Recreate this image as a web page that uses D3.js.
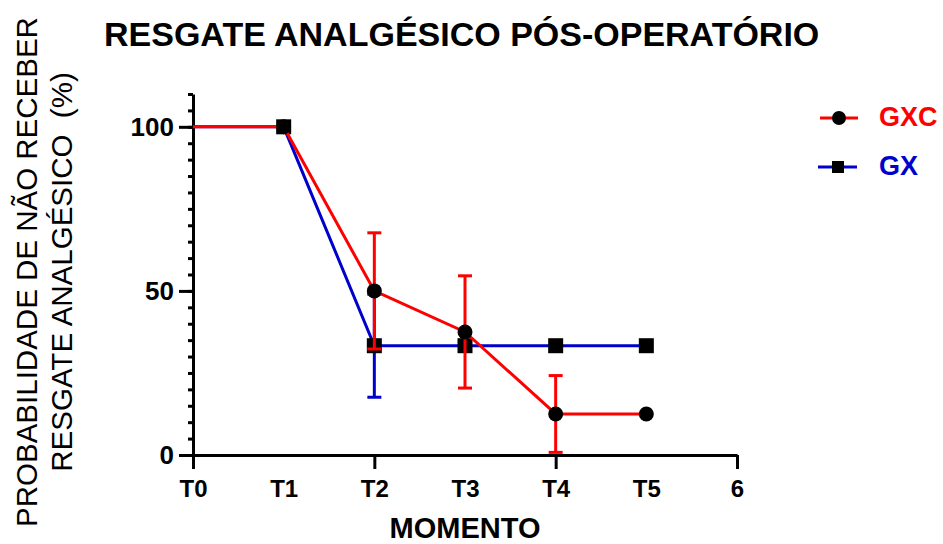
<!DOCTYPE html>
<html>
<head>
<meta charset="utf-8">
<script src="https://cdn.jsdelivr.net/npm/d3@7"></script>
<style>
  body { margin: 0; background: #fff; }
  text { font-family: "Liberation Sans", Arial, sans-serif; }
</style>
</head>
<body>
<script>
// categories (x = 0..6)
var moments = ["T0", "T1", "T2", "T3", "T4", "T5", "6"];
var xMajor = [0, 2, 4, 6];
var yMajor = [0, 50, 100];
var yMinor = d3.range(0, 111, 5);

// survival (%) and standard errors
var gxc = [100, 100, 50, 37.5, 12.5, 12.5];
var gxcErr = [null, null, 17.7, 17.1, 11.7, null];
var gx = [100, 100, 33.3, 33.3, 33.3, 33.3];
var gxErr = [null, null, 15.7, null, null, null];

var width = 943, height = 544;
var red = "#ff0000", blue = "#0000cc";

var svg = d3.select("body").append("svg")
  .attr("width", width)
  .attr("height", height);

var x = d3.scaleLinear().domain([0, 6]).range([193, 737]);
var y = d3.scaleLinear().domain([0, 110]).range([455, 94]);

// axes
svg.append("g")
  .attr("transform", "translate(193,0)")
  .call(d3.axisLeft(y).tickValues(yMinor).tickSize(5).tickSizeOuter(0).tickFormat(""));
var yMaj = svg.append("g")
  .attr("class", "ymaj")
  .attr("transform", "translate(193,0)")
  .call(d3.axisLeft(y).tickValues(yMajor).tickSize(14).tickSizeOuter(0).tickPadding(5));
yMaj.select(".domain").remove();

svg.append("g")
  .attr("transform", "translate(0,455)")
  .call(d3.axisBottom(x).tickValues(xMajor).tickSize(14).tickSizeOuter(0).tickFormat(""));
var xLab = svg.append("g")
  .attr("class", "xlab")
  .attr("transform", "translate(0,455)")
  .call(d3.axisBottom(x).tickValues(d3.range(0, 7)).tickSize(0).tickPadding(25)
    .tickFormat((d) => moments[d]));
xLab.select(".domain").remove();

svg.selectAll(".domain, .tick line")
  .attr("stroke", "#000")
  .attr("stroke-width", 3);
svg.selectAll(".tick text")
  .attr("fill", "#000")
  .attr("font-weight", "bold")
  .attr("font-family", "Liberation Sans, Arial, sans-serif");
svg.selectAll(".xlab .tick text").attr("font-size", 24);
svg.selectAll(".ymaj .tick text").attr("font-size", 26);

var line = d3.line()
  .x((d, i) => x(i))
  .y((d) => y(d));

function drawSeries(vals, errs, color, shape) {
  var g = svg.append("g");
  g.append("path")
    .datum(vals)
    .attr("d", line)
    .attr("fill", "none")
    .attr("stroke", color)
    .attr("stroke-width", 3);

  var eb = g.selectAll(".err")
    .data(vals.map((v, i) => ({ i: i, v: v, e: errs[i] })).filter((d) => d.e != null))
    .enter().append("g");
  eb.append("line")
    .attr("x1", (d) => x(d.i)).attr("x2", (d) => x(d.i))
    .attr("y1", (d) => y(d.v - d.e)).attr("y2", (d) => y(d.v + d.e));
  eb.append("line")
    .attr("x1", (d) => x(d.i) - 7).attr("x2", (d) => x(d.i) + 7)
    .attr("y1", (d) => y(d.v + d.e)).attr("y2", (d) => y(d.v + d.e));
  eb.append("line")
    .attr("x1", (d) => x(d.i) - 7).attr("x2", (d) => x(d.i) + 7)
    .attr("y1", (d) => y(d.v - d.e)).attr("y2", (d) => y(d.v - d.e));
  eb.selectAll("line").attr("stroke", color).attr("stroke-width", 3);

  // T0 is only the start of the curve, no symbol there
  var pts = vals.map((v, i) => ({ i: i, v: v })).filter((d) => d.i > 0);
  if (shape === "square") {
    g.selectAll(".pt").data(pts).enter().append("rect")
      .attr("x", (d) => x(d.i) - 7.5).attr("y", (d) => y(d.v) - 7.5)
      .attr("width", 15).attr("height", 15)
      .attr("fill", "#000");
  } else {
    g.selectAll(".pt").data(pts).enter().append("circle")
      .attr("cx", (d) => x(d.i)).attr("cy", (d) => y(d.v))
      .attr("r", 7.5)
      .attr("fill", "#000");
  }
}

drawSeries(gx, gxErr, blue, "square");
drawSeries(gxc, gxcErr, red, "circle");

// legend
var leg = svg.append("g");
leg.append("line").attr("x1", 820).attr("x2", 858).attr("y1", 118).attr("y2", 118)
  .attr("stroke", red).attr("stroke-width", 3);
leg.append("circle").attr("cx", 839).attr("cy", 118).attr("r", 7).attr("fill", "#000");
leg.append("text").attr("x", 879).attr("y", 126).text("GXC")
  .attr("fill", red).attr("font-size", 27).attr("font-weight", "bold");
leg.append("line").attr("x1", 818).attr("x2", 857).attr("y1", 167).attr("y2", 167)
  .attr("stroke", blue).attr("stroke-width", 3);
leg.append("rect").attr("x", 832).attr("y", 161).attr("width", 12).attr("height", 12).attr("fill", "#000");
leg.append("text").attr("x", 879).attr("y", 175).text("GX")
  .attr("fill", blue).attr("font-size", 27).attr("font-weight", "bold");

// titles
svg.append("text")
  .attr("x", 104).attr("y", 46)
  .attr("font-size", 34).attr("font-weight", "bold")
  .text("RESGATE ANALGÉSICO PÓS-OPERATÓRIO");

svg.append("text")
  .attr("x", 465).attr("y", 538)
  .attr("text-anchor", "middle")
  .attr("font-size", 29).attr("font-weight", "bold")
  .text("MOMENTO");

var yl = svg.append("text")
  .attr("transform", "translate(37,272) rotate(-90)")
  .attr("text-anchor", "middle")
  .attr("font-size", 29.5)
  .style("white-space", "pre");
yl.append("tspan").attr("x", 0).attr("y", 0).text("PROBABILIDADE DE NÃO RECEBER");
yl.append("tspan").attr("x", 0).attr("y", 35).text("RESGATE ANALGÉSICO  (%)");
</script>
</body>
</html>
